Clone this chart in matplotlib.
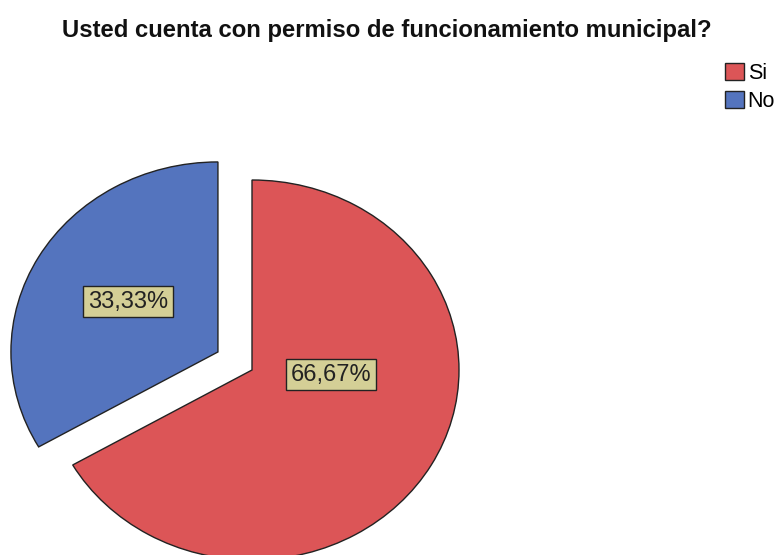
import matplotlib
matplotlib.use("Agg")
import matplotlib.pyplot as plt

# data
labels = ["Si", "No"]
values = [66.67, 33.33]
label_texts = ["66,67%", "33,33%"]
colors = ["#DC5557", "#5474BE"]
title = "Usted cuenta con permiso de funcionamiento municipal?"

W, H = 777, 555
plt.rcParams['font.family'] = ['Liberation Sans', 'DejaVu Sans']

fig = plt.figure(figsize=(W / 100, H / 100), dpi=100)
ax = fig.add_axes([0, 0, 1, 1])

wedges, _ = ax.pie(values, colors=colors, startangle=90, counterclock=False,
                   explode=[0, 0.19], radius=1,
                   wedgeprops=dict(edgecolor="#222222", linewidth=1.0))

# pie is a bit wider than tall in the reference
cx, cy = 252, 555 - 370
rx, ry = 207, 190
ax.set_aspect('auto')
ax.set_xlim(-cx / rx, (W - cx) / rx)
ax.set_ylim(-cy / ry, (H - cy) / ry)
ax.axis('off')

# percentage labels in tan boxes
label_pos = [(0.38, -0.025), (-0.60, 0.36)]
for txt, (x, y) in zip(label_texts, label_pos):
    ax.text(x, y, txt, ha='center', va='center', fontsize=17, color='#222222',
            bbox=dict(boxstyle='square,pad=0.2', facecolor='#D4CF96',
                      edgecolor='#222222', linewidth=1.0))

fig.text(387 / W, 1 - 30 / H, title, ha='center', va='center',
         fontsize=17.2, fontweight='bold', color='#111111')

fig.legend(wedges, labels, loc='upper left',
           bbox_to_anchor=(710 / W, 1 - 48 / H), frameon=False,
           fontsize=15.5, handlelength=0.9, handleheight=0.85,
           handletextpad=0.15, labelspacing=0.3, borderpad=0.2)

fig.savefig("out.png", dpi=100, facecolor='white')
